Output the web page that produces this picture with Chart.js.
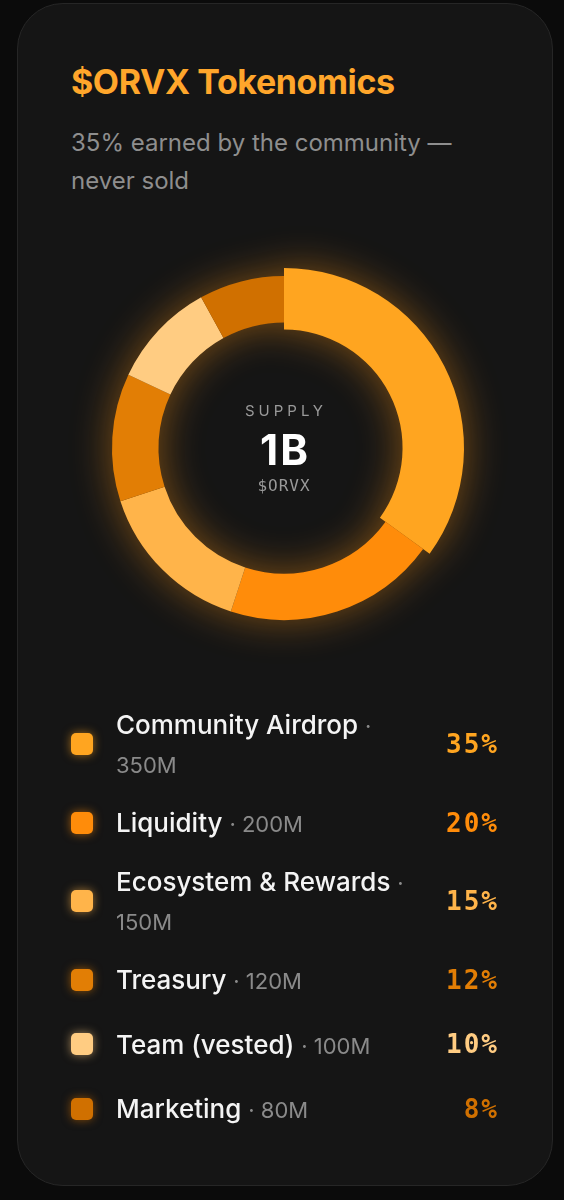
<!DOCTYPE html>
<html>
<head>
<meta charset="utf-8">
<script src="https://cdn.jsdelivr.net/npm/chart.js@4.4.1/dist/chart.umd.min.js"></script>
<style>
  html, body { margin: 0; padding: 0; }
  body {
    width: 564px; height: 1200px; overflow: hidden;
    background: #0b0b0b; position: relative;
    font-family: Inter, "Noto Sans", sans-serif;
  }
  .card {
    position: absolute; left: 17px; top: 3px; width: 534px; height: 1181px;
    background: #151515; border: 1px solid #262626; border-radius: 46px;
  }
  h1 {
    position: absolute; left: 71px; top: 61px; margin: 0;
    font-size: 34px; font-weight: 700; color: #ffa62b; letter-spacing: -0.4px;
    line-height: 42px;
  }
  .sub {
    position: absolute; left: 71px; top: 124px; width: 420px; margin: 0;
    font-size: 24px; line-height: 38px; color: #8e8e8e; font-weight: 400;
  }
  .chartBox {
    position: absolute; left: 0; top: 208px; width: 568px; height: 480px;
  }
  .chartBox canvas { filter: drop-shadow(0 0 20px rgba(255, 150, 20, 0.45)); }
  .center {
    position: absolute; left: 184px; width: 200px; text-align: center; color: #9a9a9a;
  }
  .c1 { top: 401px; font-size: 15px; letter-spacing: 4px; text-indent: 4px; line-height: 20px; }
  .c2 { top: 427px; font-size: 42px; font-weight: 700; color: #fff; letter-spacing: 2px; text-indent: 2px; line-height: 46px; }
  .c3 { top: 476px; font-size: 16px; letter-spacing: 1px; line-height: 20px; font-family: "DejaVu Sans Mono", monospace; }
  .legend {
    position: absolute; left: 71px; top: 705px; width: 426px;
    display: flex; flex-direction: column; gap: 14.5px;
  }
  .row { display: flex; align-items: center; min-height: 50px; }
  .sw { width: 22px; height: 22px; border-radius: 5px; flex: none; margin-right: 23px; }
  .txt { flex: 1; font-size: 26px; line-height: 39px; font-weight: 500; color: #f4f4f4; }
  .meta { font-size: 22px; line-height: 20px; font-weight: 400; color: #8a8a8a; }
  .pct {
    width: 82px; text-align: right; flex: none; margin-right: -2px;
    font-family: "DejaVu Sans Mono", monospace; font-weight: 700; font-size: 26px; letter-spacing: 2px;
  }
</style>
</head>
<body>
<div class="card"></div>
<h1>$ORVX Tokenomics</h1>
<p class="sub">35% earned by the community — never sold</p>
<div class="chartBox"><canvas id="tokenChart"></canvas></div>
<div class="center c1">SUPPLY</div>
<div class="center c2">1B</div>
<div class="center c3">$ORVX</div>
<div class="legend" id="legend"></div>

<script>
// allocations (millions of tokens, out of 1B)
const labels = ['Community Airdrop', 'Liquidity', 'Ecosystem & Rewards', 'Treasury', 'Team (vested)', 'Marketing'];
const amounts = [350, 200, 150, 120, 100, 80];
const shares = [35, 20, 15, 12, 10, 8];

const sliceColors = ['#ffa520', '#ff8c0a', '#ffb44a', '#e27e05', '#ffcc82', '#d07000'];

// the first slice is drawn a bit thicker than the rest
const bumpFirst = {
  id: 'bumpFirst',
  afterDatasetsUpdate(chart) {
    const arc = chart.getDatasetMeta(0).data[0];
    if (!arc) return;
    arc.outerRadius += 8;
    arc.innerRadius -= 7;
  }
};

new Chart(document.getElementById('tokenChart'), {
  type: 'doughnut',
  data: {
    labels: labels,
    datasets: [{
      data: shares,
      backgroundColor: sliceColors,
      borderWidth: 0,
      hoverOffset: 0
    }]
  },
  options: {
    responsive: true,
    maintainAspectRatio: false,
    animation: false,
    events: [],
    radius: 172,
    cutout: '73%',
    plugins: {
      legend: { display: false },
      tooltip: { enabled: false }
    }
  },
  plugins: [bumpFirst]
});

// legend list
const legend = document.getElementById('legend');
labels.forEach((name, i) => {
  const row = document.createElement('div');
  row.className = 'row';
  row.innerHTML = `
    <span class="sw" style="background:${sliceColors[i]};box-shadow:0 0 10px ${sliceColors[i]}99"></span>
    <span class="txt">${name.replace('&', '&amp;')} <span class="meta">· ${amounts[i]}M</span></span>
    <span class="pct" style="color:${sliceColors[i]}">${shares[i]}%</span>
  `;
  legend.appendChild(row);
});
</script>
</body>
</html>
